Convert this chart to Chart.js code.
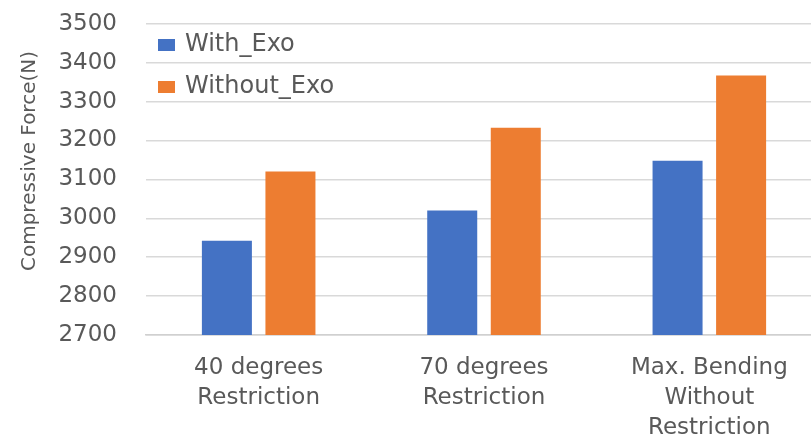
<!DOCTYPE html>
<html>
<head>
<meta charset="utf-8">
<script src="https://cdn.jsdelivr.net/npm/chart.js@4/dist/chart.umd.min.js"></script>
<style>
  html, body { margin: 0; padding: 0; background: #fff; overflow: hidden; }
  #wrap { width: 822px; height: 443px; }
</style>
</head>
<body>
<div id="wrap"><canvas id="c" width="822" height="443"></canvas></div>
<script>
// Compressive force per bending condition
const categories = [
  ['40 degrees', 'Restriction'],
  ['70 degrees', 'Restriction'],
  ['Max. Bending', 'Without', 'Restriction']
];
const seriesNames = ['With_Exo', 'Without_Exo'];
const withExo = [2942, 3020, 3148];
const withoutExo = [3120, 3233, 3367];
const yTicks = [2700, 2800, 2900, 3000, 3100, 3200, 3300, 3400, 3500];
const yTitle = 'Compressive Force(N)';

const FONT = 'DejaVu Sans';
const TEXT = '#595959';

// Legend drawn inside the plot area, top-left
const innerLegend = {
  id: 'innerLegend',
  afterDraw(chart) {
    const ctx = chart.ctx;
    ctx.save();
    ctx.font = '24px "' + FONT + '"';
    ctx.textBaseline = 'middle';
    ctx.textAlign = 'left';
    chart.data.datasets.forEach((ds, i) => {
      const y = 45 + i * 42;
      ctx.fillStyle = ds.backgroundColor;
      ctx.fillRect(158, y - 6, 17, 12);
      ctx.fillStyle = TEXT;
      ctx.fillText(ds.label, 185, y);
    });
    ctx.restore();
  }
};

// Rotated y-axis title
const yAxisTitle = {
  id: 'yAxisTitle',
  afterDraw(chart) {
    const ctx = chart.ctx;
    ctx.save();
    ctx.translate(30, 161);
    ctx.rotate(-Math.PI / 2);
    ctx.font = '20px "' + FONT + '"';
    ctx.fillStyle = TEXT;
    ctx.textAlign = 'center';
    ctx.textBaseline = 'middle';
    ctx.fillText(yTitle, 0, 0);
    ctx.restore();
  }
};

new Chart(document.getElementById('c'), {
  type: 'bar',
  data: {
    labels: categories,
    datasets: [
      { label: seriesNames[0], data: withExo, backgroundColor: '#4472C4', borderWidth: 0 },
      { label: seriesNames[1], data: withoutExo, backgroundColor: '#ED7D31', borderWidth: 0 }
    ]
  },
  options: {
    responsive: false,
    animation: false,
    devicePixelRatio: 1,
    categoryPercentage: 0.564,
    barPercentage: 0.787,
    layout: { padding: 0 },
    plugins: {
      legend: { display: false },
      tooltip: { enabled: false }
    },
    scales: {
      x: {
        grid: { display: false, drawTicks: false },
        border: { display: true, color: '#d0d0d0', width: 1.5 },
        ticks: {
          color: TEXT,
          font: { family: FONT, size: 23, lineHeight: 1.3 },
          padding: 18,
          maxRotation: 0,
          autoSkip: false
        },
        afterFit(s) { s.height = 108; }
      },
      y: {
        min: 2700,
        max: 3500,
        afterBuildTicks(s) { s.ticks = yTicks.map(v => ({ value: v })); },
        grid: { color: '#d9d9d9', lineWidth: 1.5, drawTicks: true, tickLength: 19, tickColor: 'rgba(0,0,0,0)' },
        border: { display: false },
        ticks: {
          color: TEXT,
          font: { family: FONT, size: 23 },
          padding: 10,
          callback: v => String(v)
        },
        afterFit(s) { s.width = 146; }
      }
    }
  },
  plugins: [innerLegend, yAxisTitle]
});
</script>
</body>
</html>
